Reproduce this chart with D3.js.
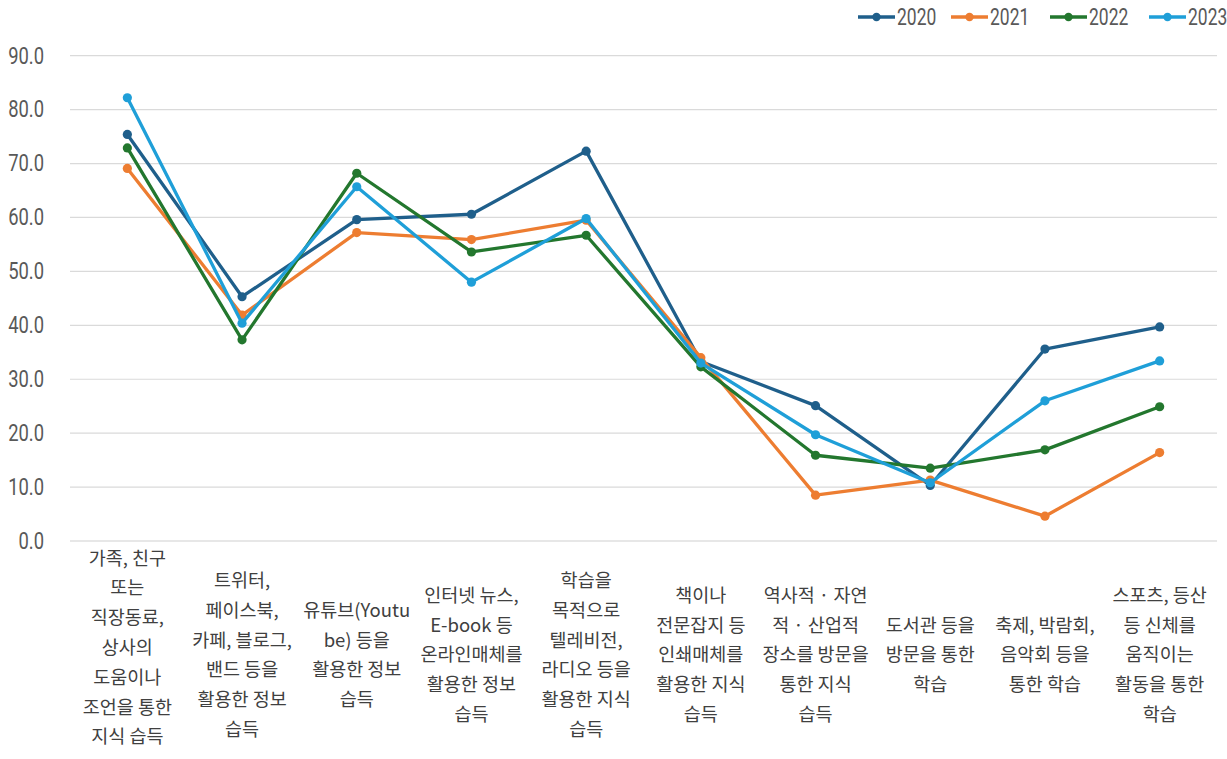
<!DOCTYPE html>
<html>
<head>
<meta charset="utf-8">
<script src="https://cdn.jsdelivr.net/npm/d3@7"></script>
<style>
  body { margin: 0; background: #fff; }
  svg { display: block; }
  .axis-y text { font-family: Roboto, "Liberation Sans", sans-serif; }
</style>
</head>
<body>
<div id="chart"></div>
<script>
// categories (x axis), one label per line
const categories = [
  ["가족, 친구", "또는", "직장동료,", "상사의", "도움이나", "조언을 통한", "지식 습득"],
  ["트위터,", "페이스북,", "카페, 블로그,", "밴드 등을", "활용한 정보", "습득"],
  ["유튜브(Youtu", "be) 등을", "활용한 정보", "습득"],
  ["인터넷 뉴스,", "E-book 등", "온라인매체를", "활용한 정보", "습득"],
  ["학습을", "목적으로", "텔레비전,", "라디오 등을", "활용한 지식", "습득"],
  ["책이나", "전문잡지 등", "인쇄매체를", "활용한 지식", "습득"],
  ["역사적 · 자연", "적 · 산업적", "장소를 방문을", "통한 지식", "습득"],
  ["도서관 등을", "방문을 통한", "학습"],
  ["축제, 박람회,", "음악회 등을", "통한 학습"],
  ["스포츠, 등산", "등 신체를", "움직이는", "활동을 통한", "학습"]
];

const years = ["2020", "2021", "2022", "2023"];
const colors = ["#1f5f8b", "#ed7d31", "#23772e", "#1f9fd8"];

const values2020 = [75.4, 45.3, 59.6, 60.6, 72.3, 33.3, 25.1, 10.3, 35.6, 39.7];
const values2021 = [69.1, 41.9, 57.2, 55.9, 59.5, 34.0, 8.5, 11.3, 4.6, 16.4];
const values2022 = [72.9, 37.3, 68.2, 53.6, 56.7, 32.3, 15.9, 13.5, 16.9, 24.9];
const values2023 = [82.2, 40.4, 65.7, 48.0, 59.8, 33.0, 19.7, 10.8, 26.0, 33.4];
const seriesValues = [values2020, values2021, values2022, values2023];

const yTicks = [0, 10, 20, 30, 40, 50, 60, 70, 80, 90];

const width = 1227, height = 759;
const margin = { top: 55.7, right: 10, bottom: 218, left: 70 };
const innerW = width - margin.left - margin.right;
const innerH = height - margin.top - margin.bottom;

const narrow = 0.8; // condensed look of the original fonts

const svg = d3.select("#chart").append("svg")
  .attr("width", width)
  .attr("height", height);

const g = svg.append("g").attr("transform", `translate(${margin.left},${margin.top})`);

const x = d3.scaleBand()
  .domain(d3.range(categories.length))
  .range([0, innerW]);

const y = d3.scaleLinear()
  .domain([0, 90])
  .range([innerH, 0]);

// gridlines
g.append("g")
  .selectAll("line")
  .data(yTicks)
  .join("line")
  .attr("x1", 0)
  .attr("x2", innerW)
  .attr("y1", d => y(d))
  .attr("y2", d => y(d))
  .attr("stroke", d => d === 0 ? "#cfcfcf" : "#dadada")
  .attr("stroke-width", 1.2);

// y axis labels
const yAxis = g.append("g")
  .attr("class", "axis-y")
  .call(d3.axisLeft(y).tickValues(yTicks).tickFormat(d3.format(".1f")).tickSize(0));
yAxis.select(".domain").remove();
yAxis.selectAll("text")
  .attr("x", -26 / narrow)
  .attr("transform", `scale(${narrow},1)`)
  .attr("fill", "#595959")
  .style("font-size", "23px");

// x labels
const lineH = 29.8;
const labelCenter = 655 - margin.top;
const labelBottom = 737 - margin.top;
const xLabels = g.append("g").attr("class", "axis-x");
categories.forEach((lines, i) => {
  const cx = x(i) + x.bandwidth() / 2;
  const t = xLabels.append("text")
    .attr("x", cx)
    .attr("text-anchor", "middle")
    .attr("fill", "#404040")
    .style("font-family", "'Noto Sans CJK KR', sans-serif")
    .style("font-size", "18.5px");
  const span = (lines.length - 1) * lineH;
  const y0 = Math.min(labelCenter - span / 2, labelBottom - span);
  lines.forEach((s, j) => {
    t.append("tspan")
      .attr("x", cx)
      .attr("y", y0 + j * lineH)
      .attr("dy", "0.35em")
      .text(s);
  });
});

// lines
const line = d3.line()
  .x((d, i) => x(i) + x.bandwidth() / 2)
  .y(d => y(d));

seriesValues.forEach((vals, k) => {
  const sg = g.append("g");
  sg.append("path")
    .datum(vals)
    .attr("fill", "none")
    .attr("stroke", colors[k])
    .attr("stroke-width", 3.3)
    .attr("stroke-linejoin", "round")
    .attr("d", line);
  sg.selectAll("circle")
    .data(vals)
    .join("circle")
    .attr("cx", (d, i) => x(i) + x.bandwidth() / 2)
    .attr("cy", d => y(d))
    .attr("r", 4.6)
    .attr("fill", colors[k]);
});

// legend
const legendX = [858, 951, 1050, 1149];
const legend = svg.append("g");
years.forEach((yr, k) => {
  const lg = legend.append("g").attr("transform", `translate(${legendX[k]},17)`);
  lg.append("line")
    .attr("x1", 0).attr("x2", 37)
    .attr("y1", 0).attr("y2", 0)
    .attr("stroke", colors[k])
    .attr("stroke-width", 3.3);
  lg.append("circle")
    .attr("cx", 18.5).attr("cy", 0).attr("r", 4.2)
    .attr("fill", colors[k]);
  lg.append("g")
    .attr("transform", `translate(39,0) scale(0.76,1)`)
    .append("text")
    .attr("dy", "0.36em")
    .attr("fill", "#595959")
    .style("font-family", "Roboto, 'Liberation Sans', sans-serif")
    .style("font-size", "23px")
    .text(yr);
});
</script>
</body>
</html>
